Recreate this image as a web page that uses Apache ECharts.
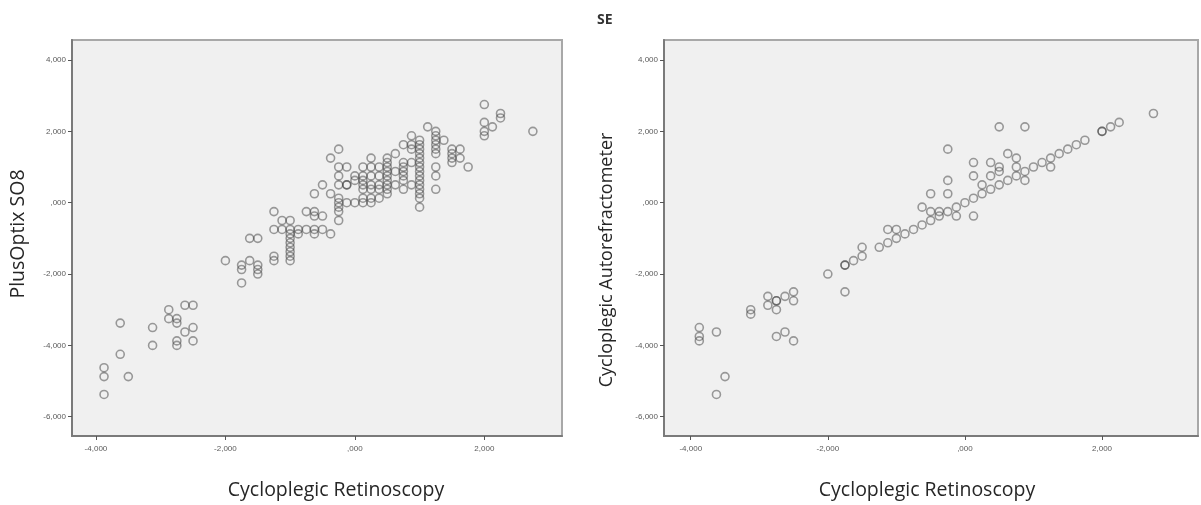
<!DOCTYPE html>
<html>
<head>
<meta charset="utf-8">
<script src="https://cdn.jsdelivr.net/npm/echarts@6/dist/echarts.min.js"></script>
<style>
  html, body { margin: 0; padding: 0; background: #fff; }
  #chart { width: 1201px; height: 505px; }
</style>
</head>
<body>
<div id="chart"></div>
<script>
// Left panel: retinoscopy (x) vs PlusOptix SO8 (y), diopters
var soRetino = [
  -3.875, -3.875, -3.875, -3.625, -3.625, -3.5, -3.125, -3.125, -2.875, -2.875,
  -2.75, -2.75, -2.75, -2.75, -2.625, -2.5, -2.625, -2.5, -2.5, -2.0,
  -1.75, -1.75, -1.75, -1.625, -1.5, -1.625, -1.5, -1.5, -1.5, -1.25,
  -1.25, -1.25, -1.125, -1.0, -1.25, -1.125, -1.0, -0.875, -0.75, -0.625,
  -0.5, -1.0, -0.875, -0.625, -0.375, -1.0, -1.0, -1.0, -1.0, -1.0,
  -1.0, -0.75, -0.625, -0.625, -0.5, -0.625, -0.5, -0.375, -0.25, -0.375,
  -0.25, -0.125, -0.25, -0.25, -0.125, -0.25, -0.25, -0.25, -0.25, -0.25,
  -0.125, 0, 0.125, 0.25, 0, 0.125, 0, -0.125,
  0.125, 0.25, 0.25, 0.375, 0.125, 0.25, 0.375, 0.125, 0.25, 0.375,
  0.125, 0.25, 0.375, 0.125, 0.25, 0.375,
  0.5, 0.5, 0.5, 0.5, 0.5, 0.5, 0.5, 0.5, 0.5,
  0.625, 0.625, 0.625, 0.75, 0.75, 0.75, 0.75, 0.75, 0.75, 0.75,
  0.875, 0.875, 0.875, 0.875, 0.875,
  1.0, 1.0, 1.0, 1.0, 1.0, 1.0, 1.0, 1.0, 1.0, 1.0, 1.0, 1.0, 1.0, 1.0, 1.0,
  1.125, 1.25, 1.375, 1.25, 1.25, 1.25, 1.25, 1.25, 1.25, 1.25, 1.25,
  1.5, 1.625, 1.5, 1.5, 1.625, 1.5, 1.75,
  2.0, 2.25, 2.25, 2.0, 2.125, 2.0, 2.0, 2.75
];
var soPlusOptix = [
  -4.625, -4.875, -5.375, -3.375, -4.25, -4.875, -3.5, -4.0, -3.0, -3.25,
  -3.25, -3.375, -3.875, -4.0, -2.875, -2.875, -3.625, -3.5, -3.875, -1.625,
  -1.75, -1.875, -2.25, -1.0, -1.0, -1.625, -1.75, -1.875, -2.0, -0.25,
  -1.5, -1.625, -0.5, -0.5, -0.75, -0.75, -0.75, -0.75, -0.75, -0.75,
  -0.75, -0.875, -0.875, -0.875, -0.875, -1.0, -1.125, -1.25, -1.375, -1.5,
  -1.625, -0.25, -0.25, -0.375, -0.375, 0.25, 0.5, 1.25, 1.5, 0.25,
  1.0, 1.0, 0.75, 0.5, 0.5, 0.125, 0, -0.125, -0.25, -0.5,
  0, 0, 0, 0, 0.625, 0.625, 0.75, 0.5,
  1.0, 1.25, 1.0, 1.0, 0.75, 0.75, 0.75, 0.5, 0.5, 0.5,
  0.375, 0.375, 0.375, 0.125, 0.125, 0.125,
  1.25, 1.125, 1.0, 0.875, 0.75, 0.625, 0.5, 0.375, 0.25,
  1.375, 0.875, 0.5, 1.625, 1.125, 1.0, 0.875, 0.75, 0.625, 0.375,
  1.875, 1.625, 1.5, 1.125, 0.5,
  1.75, 1.625, 1.5, 1.375, 1.25, 1.125, 1.0, 0.875, 0.75, 0.625, 0.5, 0.375, 0.25, 0.125, -0.125,
  2.125, 2.0, 1.75, 1.875, 1.75, 1.625, 1.5, 1.375, 1.0, 0.75, 0.375,
  1.5, 1.5, 1.375, 1.25, 1.25, 1.125, 1.0,
  2.75, 2.5, 2.375, 2.25, 2.125, 2.0, 1.875, 2.0
];

// Right panel: retinoscopy (x) vs cycloplegic autorefractometer (y), diopters
var arRetino = [
  -3.875, -3.875, -3.875, -3.625, -3.625, -3.5, -3.125, -3.125, -2.875, -2.875,
  -2.75, -2.75, -2.75, -2.75, -2.625, -2.625, -2.5, -2.5, -2.5,
  -2.0, -1.75, -1.75, -1.75, -1.625, -1.5, -1.5, -1.25, -1.125, -1.125,
  -1.0, -1.0, -0.875, -0.75, -0.625, -0.625, -0.5, -0.5, -0.5, -0.375,
  -0.375, -0.25, -0.25, -0.25, -0.25, -0.125, -0.125, 0, 0.125, 0.125,
  0.125, 0.125, 0.25, 0.25, 0.375, 0.375, 0.375, 0.5, 0.5, 0.5,
  0.5, 0.625, 0.625, 0.75, 0.75, 0.75, 0.875, 0.875, 0.875, 1.0,
  1.125, 1.25, 1.25, 1.375, 1.5, 1.625, 1.75, 2.0, 2.0, 2.125, 2.25, 2.75
];
var arAuto = [
  -3.5, -3.75, -3.875, -3.625, -5.375, -4.875, -3.0, -3.125, -2.625, -2.875,
  -2.75, -2.75, -3.0, -3.75, -2.625, -3.625, -2.5, -2.75, -3.875,
  -2.0, -1.75, -1.75, -2.5, -1.625, -1.5, -1.25, -1.25, -1.125, -0.75,
  -1.0, -0.75, -0.875, -0.75, -0.625, -0.125, -0.5, -0.25, 0.25, -0.375,
  -0.25, -0.25, 0.25, 0.625, 1.5, -0.125, -0.375, 0, 0.125, -0.375,
  1.125, 0.75, 0.25, 0.5, 0.375, 1.125, 0.75, 0.5, 1.0, 0.875,
  2.125, 0.625, 1.375, 0.75, 1.25, 1.0, 0.875, 0.625, 2.125, 1.0,
  1.125, 1.25, 1.0, 1.375, 1.5, 1.625, 1.75, 2.0, 2.0, 2.125, 2.25, 2.5
];

var tickValsX = [-4, -2, 0, 2];
var tickValsY = [-6, -4, -2, 0, 2, 4];

function toPairs(xs, ys) {
  var out = [];
  for (var i = 0; i < xs.length; i++) out.push([xs[i], ys[i]]);
  return out;
}

// SPSS style labels: 4,000  ,000  -2,000
function spss(v) {
  var s = Math.abs(v).toFixed(3).replace('.', ',');
  if (Math.abs(v) < 1) s = s.replace(/^0/, '');
  return (v < 0 ? '-' : '') + s;
}

var labelStyle = { fontSize: 8, color: '#5a5a5a', fontFamily: 'Liberation Sans', formatter: spss };

function xAx(idx, min, max, pad) {
  return {
    type: 'value', gridIndex: idx, min: min, max: max,
    name: 'Cycloplegic Retinoscopy', nameLocation: 'middle', nameGap: 44,
    nameTextStyle: { fontSize: 19.5, color: '#262626', fontFamily: 'Open Sans', padding: pad },
    splitLine: { show: false },
    axisLine: { onZero: false, lineStyle: { color: '#7a7a7a', width: 2 } },
    axisTick: { customValues: tickValsX, length: 4, lineStyle: { color: '#555' } },
    axisLabel: Object.assign({ customValues: tickValsX, margin: 9 }, labelStyle)
  };
}
function yAx(idx, name, gap, size, pad) {
  return {
    type: 'value', gridIndex: idx, min: -6.54, max: 4.56,
    name: name, nameLocation: 'middle', nameGap: gap,
    nameTextStyle: { fontSize: size, color: '#262626', fontFamily: 'Open Sans', padding: pad },
    splitLine: { show: false },
    axisLine: { onZero: false, lineStyle: { color: '#7a7a7a', width: 2 } },
    axisTick: { customValues: tickValsY, length: 4, lineStyle: { color: '#555' } },
    axisLabel: Object.assign({ customValues: tickValsY, margin: 6 }, labelStyle)
  };
}

var dot = {
  type: 'scatter', symbol: 'circle', symbolSize: 8,
  itemStyle: { color: 'rgba(0,0,0,0)', borderColor: 'rgba(60,60,60,0.62)', borderWidth: 1.6 },
  emphasis: { disabled: true }
};

var chart = echarts.init(document.getElementById('chart'));
chart.setOption({
  animation: false,
  backgroundColor: '#fff',
  title: {
    text: 'SE', left: 592, top: 8,
    textStyle: { fontSize: 14, fontWeight: 'bold', color: '#333', fontFamily: 'Open Sans' }
  },
  grid: [
    { left: 72, top: 40, right: 639, bottom: 68, show: true, backgroundColor: '#f0f0f0', borderColor: '#a8a8a8', borderWidth: 2 },
    { left: 664, top: 40, right: 3, bottom: 67, show: true, backgroundColor: '#f0f0f0', borderColor: '#a8a8a8', borderWidth: 2 }
  ],
  xAxis: [xAx(0, -4.37, 3.2, [0, 0, 0, 38]), xAx(1, -4.39, 3.4, [0, 8, 0, 0])],
  yAxis: [
    yAx(0, 'PlusOptix SO8', 44, 19.5, [0, 0, 0, 8]),
    yAx(1, 'Cycloplegic Autorefractometer', 48, 18, [0, 44, 0, 0])
  ],
  series: [
    Object.assign({ xAxisIndex: 0, yAxisIndex: 0, data: toPairs(soRetino, soPlusOptix) }, dot),
    Object.assign({ xAxisIndex: 1, yAxisIndex: 1, data: toPairs(arRetino, arAuto) }, dot)
  ]
});
</script>
</body>
</html>
